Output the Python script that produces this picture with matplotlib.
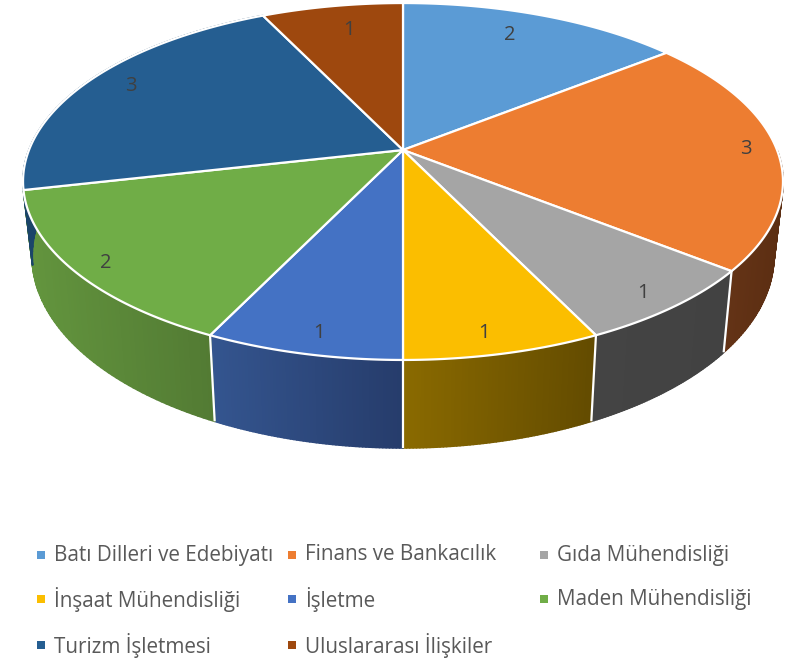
import numpy as np
import matplotlib
matplotlib.use("Agg")
import matplotlib.pyplot as plt
from matplotlib.collections import PolyCollection
from matplotlib.colors import to_rgb

categories = ["Batı Dilleri ve Edebiyatı", "Finans ve Bankacılık", "Gıda Mühendisliği",
              "İnşaat Mühendisliği", "İşletme", "Maden Mühendisliği",
              "Turizm İşletmesi", "Uluslararası İlişkiler"]
values = [2, 3, 1, 1, 1, 2, 3, 1]
top_colors = ["#5B9BD5", "#ED7D31", "#A5A5A5", "#FBBE00", "#4472C4", "#70AD47", "#255E91", "#9E480E"]
wall_start = ["#3A6F9F", "#653417", "#444444", "#8A6A00", "#34558F", "#63953E", "#1B4569", "#6F320A"]
wall_end = ["#3A6F9F", "#5C2E12", "#424242", "#634B00", "#263C6B", "#527A33", "#1B4569", "#6F320A"]
label_nudge = [(-21, 8), (6, -1), (0, 4), (-8, 3), (5, 3), (-5, 5), (12, -1), (11, 11)]

FONT = "Open Sans"
TEXT = "#595959"
plt.rcParams["font.family"] = [FONT, "DejaVu Sans"]

# perspective camera of the 3-D pie, in pixels
CX, CY_TOP, CY_BOT = 403.0, 150.0, 222.0
BX, AY_TOP, AY_BOT, K, SHRINK = 374.0, 172.9, 186.0, 0.1765, 0.976


def project(theta, r=1.0, bottom=False):
    """theta is degrees clockwise from the back of the pie"""
    t = np.radians(theta)
    u, v = r * np.sin(t), r * np.cos(t)
    w = 1 + K * v
    if bottom:
        return CX + SHRINK * BX * u / w, CY_BOT - AY_BOT * v / w
    return CX + BX * u / w, CY_TOP - AY_TOP * v / w


fig = plt.figure(figsize=(7.93, 6.62), dpi=100)
ax = fig.add_axes([0, 0, 1, 1])
ax.set_xlim(0, 793)
ax.set_ylim(662, 0)
ax.axis("off")

fractions = np.cumsum([0] + values) / sum(values) * 360.0
starts, ends = fractions[:-1], fractions[1:]

# side walls with a horizontal gradient: only pieces that face the viewer
for a, b, c0, c1 in zip(starts, ends, wall_start, wall_end):
    if a >= 258 or b <= 90:
        continue
    lo, hi = max(a, 90.0), b
    th = np.linspace(lo, hi, 60)
    xt, yt = project(th)
    xb, yb = project(th, bottom=True)
    quads, cols = [], []
    xmin, xmax = min(xt.min(), xb.min()), max(xt.max(), xb.max())
    c0, c1 = np.array(to_rgb(c0)), np.array(to_rgb(c1))
    for i in range(len(th) - 1):
        quads.append([(xt[i], yt[i]), (xt[i + 1], yt[i + 1]), (xb[i + 1], yb[i + 1]), (xb[i], yb[i])])
        f = ((xt[i] + xt[i + 1]) / 2 - xmin) / max(xmax - xmin, 1)
        cols.append(c0 + (c1 - c0) * f)
    ax.add_collection(PolyCollection(quads, facecolors=cols, edgecolors=cols, linewidths=1.3, zorder=1))

# seams between visible wall pieces
for b in fractions[1:-1]:
    if 110 < b < 250:
        xt, yt = project(b)
        xb, yb = project(b, bottom=True)
        ax.plot([xt, xb], [yt, yb], color="white", lw=1.6, zorder=2, solid_capstyle="butt")

# top surface
for a, b, c in zip(starts, ends, top_colors):
    th = np.linspace(a, b, 160)
    x, y = project(th)
    ax.fill(np.r_[CX, x], np.r_[CY_TOP, y], facecolor=c, edgecolor="white", lw=1.6, zorder=3, joinstyle="round")

# data labels
for a, b, val, (dx, dy) in zip(starts, ends, values, label_nudge):
    x, y = project((a + b) / 2, r=0.9)
    ax.text(x + dx, y + dy, str(val), ha="center", va="center", fontsize=14.5, color="#404040", zorder=4)

# legend
col_x = [37, 288, 540]
row_y = [555, 599, 645]
for i, (name, c) in enumerate(zip(categories, top_colors)):
    r, k = divmod(i, 3)
    ax.scatter([col_x[k] + 4], [row_y[r] - 0.5], marker="s", s=38, color=c, linewidths=0, zorder=4)
    ax.text(col_x[k] + 17, row_y[r], name, ha="left", va="center", fontsize=14.9, color=TEXT, zorder=4)

fig.savefig("out.png", dpi=100)
